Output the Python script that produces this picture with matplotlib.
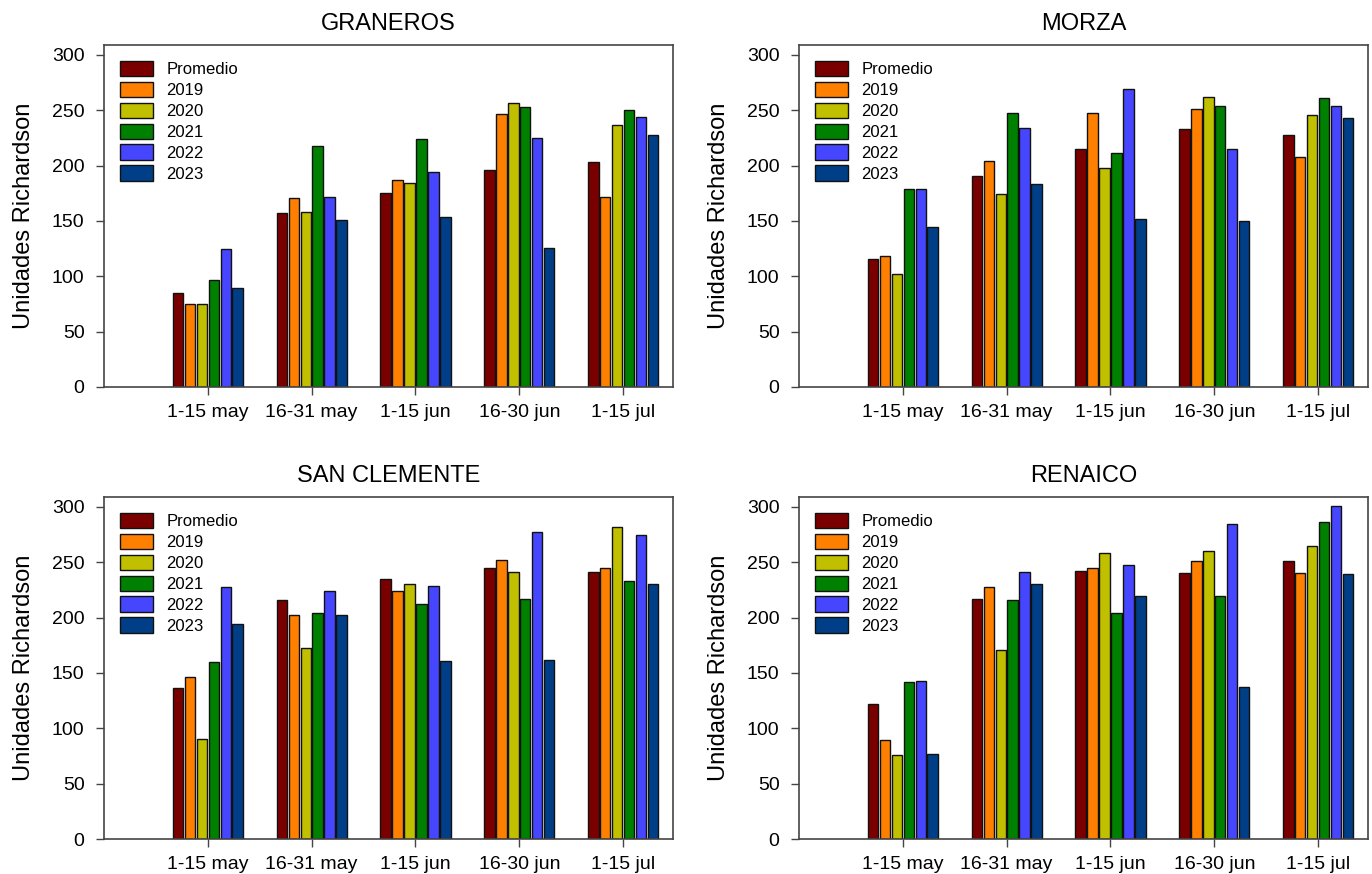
import matplotlib
matplotlib.use("Agg")
import matplotlib.pyplot as plt
import numpy as np

plt.rcParams['font.family'] = ['Liberation Sans', 'DejaVu Sans']

categories = ["1-15 may", "16-31 may", "1-15 jun", "16-30 jun", "1-15 jul"]
series_names = ["Promedio", "2019", "2020", "2021", "2022", "2023"]
colors = ["#7a0000", "#ff8000", "#c0c000", "#008000", "#4646ff", "#003f87"]

graneros = {
    "Promedio": [85, 157, 175, 196, 203],
    "2019": [75, 171, 187, 247, 172],
    "2020": [75, 158, 184, 257, 237],
    "2021": [97, 218, 224, 253, 250],
    "2022": [125, 172, 194, 225, 244],
    "2023": [89, 151, 154, 126, 228],
}
morza = {
    "Promedio": [116, 191, 215, 233, 228],
    "2019": [118, 204, 248, 251, 208],
    "2020": [102, 174, 198, 262, 246],
    "2021": [179, 248, 211, 254, 261],
    "2022": [179, 234, 269, 215, 254],
    "2023": [145, 183, 152, 150, 243],
}
san_clemente = {
    "Promedio": [136, 216, 235, 245, 241],
    "2019": [146, 202, 224, 252, 245],
    "2020": [90, 173, 230, 241, 282],
    "2021": [160, 204, 212, 217, 233],
    "2022": [228, 224, 229, 277, 275],
    "2023": [194, 202, 161, 162, 230],
}
renaico = {
    "Promedio": [122, 217, 242, 240, 251],
    "2019": [89, 228, 245, 251, 240],
    "2020": [76, 171, 258, 260, 265],
    "2021": [142, 216, 204, 220, 286],
    "2022": [143, 241, 248, 285, 301],
    "2023": [77, 230, 220, 137, 239],
}

panels = [("GRANEROS", graneros), ("MORZA", morza),
          ("SAN CLEMENTE", san_clemente), ("RENAICO", renaico)]

W, H = 1372, 874
fig = plt.figure(figsize=(W / 100, H / 100), dpi=100)

boxes = [(104, 45, 673, 387), (799, 45, 1368, 387),
         (104, 497, 673, 839), (799, 497, 1368, 839)]

x = np.arange(len(categories))
step = 0.115
width = 0.10
spine_col = "#444444"

for (title, data), (l, t, r, b) in zip(panels, boxes):
    ax = fig.add_axes([l / W, (H - b) / H, (r - l) / W, (b - t) / H])
    for i, name in enumerate(series_names):
        off = (i - 2.5) * step
        ax.bar(x + off, data[name], width=width, color=colors[i],
               edgecolor="#111111", linewidth=1.0, label=name)
    ax.set_xlim(-1, 4.48)
    ax.set_ylim(0, 309)
    ax.set_yticks([0, 50, 100, 150, 200, 250, 300])
    ax.set_xticks(x)
    ax.set_xticklabels(categories)
    ax.tick_params(axis='both', direction='out', length=6, width=1,
                   color=spine_col, labelsize=14, pad=6)
    ax.tick_params(axis='y', pad=8)
    for s in ax.spines.values():
        s.set_color(spine_col)
        s.set_linewidth(1.2)
    ax.set_ylabel("Unidades Richardson", fontsize=17, labelpad=12)
    ax.set_title(title, fontsize=17, pad=11)
    ax.legend(loc="upper left", frameon=False, fontsize=12,
              handlelength=2.0, handleheight=1.05,
              labelspacing=0.27, handletextpad=0.8,
              borderaxespad=0.5, borderpad=0.45)

fig.savefig("out.png", dpi=100, facecolor="white")
